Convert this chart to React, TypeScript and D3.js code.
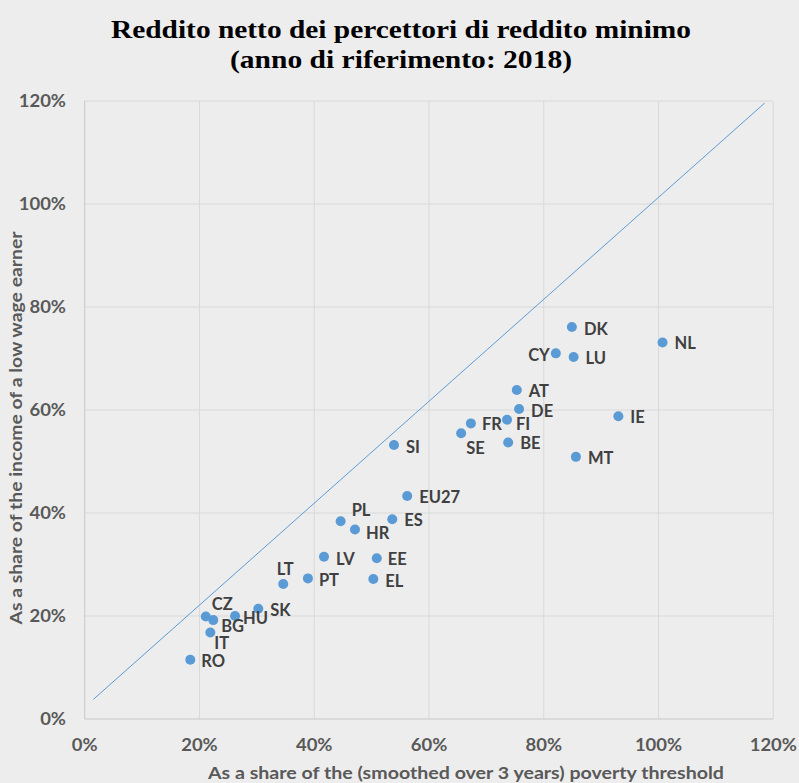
import React from "react";
import * as d3 from "d3";

const countries = ["RO","IT","BG","CZ","HU","SK","LT","PT","LV","EE","EL","PL","HR","ES","EU27","SI","SE","FR","FI","BE","DE","AT","CY","DK","LU","MT","IE","NL"];
const povertyShare = [0.184,0.219,0.224,0.211,0.262,0.3025,0.346,0.389,0.417,0.509,0.503,0.446,0.471,0.536,0.562,0.539,0.656,0.673,0.736,0.738,0.757,0.753,0.821,0.849,0.852,0.856,0.930,1.007];
const wageShare = [0.115,0.168,0.192,0.199,0.200,0.214,0.262,0.273,0.315,0.312,0.272,0.384,0.368,0.388,0.433,0.532,0.555,0.574,0.581,0.537,0.602,0.639,0.710,0.761,0.703,0.509,0.588,0.731];

const refLineX = [0.015, 1.185];
const refLineY = [0.038, 1.196];

const tickValues = [0, 0.2, 0.4, 0.6, 0.8, 1.0, 1.2];

const titleLines = ["Reddito netto dei percettori di reddito minimo", "(anno di riferimento: 2018)"];
const xTitle = "As a share of the (smoothed over 3 years) poverty threshold";
const yTitle = "As a share of the income of a low wage earner";

// label placement: [dx, dy, anchor]
const labelPlacement: Record<string, [number, number, string]> = {
  RO: [11, 1, "start"], IT: [4, 11, "start"], BG: [8, 6, "start"], CZ: [6, -12, "start"],
  HU: [8, 2, "start"], SK: [12, 1, "start"], LT: [2, -15, "middle"], PT: [11, 2, "start"],
  LV: [12, 2, "start"], EE: [11, 1, "start"], EL: [12, 2, "start"], PL: [11, -11, "start"],
  HR: [11, 4, "start"], ES: [12, 1, "start"], EU27: [12, 1, "start"], SI: [12, 2, "start"],
  SE: [5, 15, "start"], FR: [11, 1, "start"], FI: [9, 4, "start"], BE: [12, 1, "start"],
  DE: [12, 2, "start"], AT: [12, 1, "start"], CY: [-6, 2, "end"], DK: [12, 2, "start"],
  LU: [12, 1, "start"], MT: [12, 1, "start"], IE: [12, 1, "start"], NL: [12, 1, "start"],
};

const W = 799, H = 783;
const left = 84.7, right = 773.3, top = 101, bottom = 719;

export default function App() {
  const x = d3.scaleLinear().domain([0, 1.2]).range([left, right]);
  const y = d3.scaleLinear().domain([0, 1.2]).range([bottom, top]);
  const fmt = d3.format(".0%");
  const line = d3.line<number>().x((d) => x(refLineX[d])).y((d) => y(refLineY[d]));
  const sans = "Lato, 'Open Sans', sans-serif";
  const blue = "#5B9BD5";
  const titleLens = [580, 342];

  return (
    <svg width={W} height={H} style={{ position: "absolute", left: 0, top: 0 }}>
      <rect width={W} height={H} fill="#EDEDED" />
      {titleLines.map((t, i) => (
        <text key={t} x={401} y={38 + i * 30} textAnchor="middle" textLength={titleLens[i]} lengthAdjust="spacingAndGlyphs" fontFamily="'Liberation Serif', 'Times New Roman', serif" fontWeight="bold" fontSize={26} fill="#000">{t}</text>
      ))}
      {tickValues.slice(1).map((v) => (
        <line key={"gx" + v} x1={x(v)} x2={x(v)} y1={top} y2={bottom} stroke="#D9D9D9" strokeWidth={1} />
      ))}
      {tickValues.slice(1).map((v) => (
        <line key={"gy" + v} x1={left} x2={right} y1={y(v)} y2={y(v)} stroke="#D9D9D9" strokeWidth={1} />
      ))}
      <line x1={left} x2={left} y1={top} y2={bottom} stroke="#C8C8C8" strokeWidth={1} />
      <line x1={left} x2={right} y1={bottom} y2={bottom} stroke="#C8C8C8" strokeWidth={1} />
      {tickValues.map((v) => (
        <text key={"ty" + v} transform={`translate(66,${y(v)}) scale(1.12,1)`} dy="0.35em" textAnchor="end" fontFamily={sans} fontWeight="bold" fontSize={16.5} fill="#595959">{fmt(v)}</text>
      ))}
      {tickValues.map((v) => (
        <text key={"tx" + v} transform={`translate(${x(v)},745) scale(1.12,1)`} dy="0.35em" textAnchor="middle" fontFamily={sans} fontWeight="bold" fontSize={16.5} fill="#595959">{fmt(v)}</text>
      ))}
      <text x={466} y={773} dy="0.35em" textAnchor="middle" textLength={516} lengthAdjust="spacingAndGlyphs" fontFamily={sans} fontWeight="bold" fontSize={17} fill="#595959">{xTitle}</text>
      <text transform={`translate(16,428) rotate(-90)`} dy="0.35em" textAnchor="middle" textLength={393} lengthAdjust="spacingAndGlyphs" fontFamily={sans} fontWeight="bold" fontSize={17} fill="#595959">{yTitle}</text>
      <path d={line([0, 1]) || ""} fill="none" stroke={blue} strokeWidth={1} />
      {countries.map((c, i) => (
        <circle key={"p" + c} cx={x(povertyShare[i])} cy={y(wageShare[i])} r={5} fill={blue} />
      ))}
      {countries.map((c, i) => {
        const [dx, dy, anchor] = labelPlacement[c];
        return (
          <text key={"l" + c} x={x(povertyShare[i]) + dx} y={y(wageShare[i]) + dy} dy="0.35em" textAnchor={anchor as any} fontFamily={sans} fontWeight="bold" fontSize={16.5} fill="#404040">{c}</text>
        );
      })}
    </svg>
  );
}
